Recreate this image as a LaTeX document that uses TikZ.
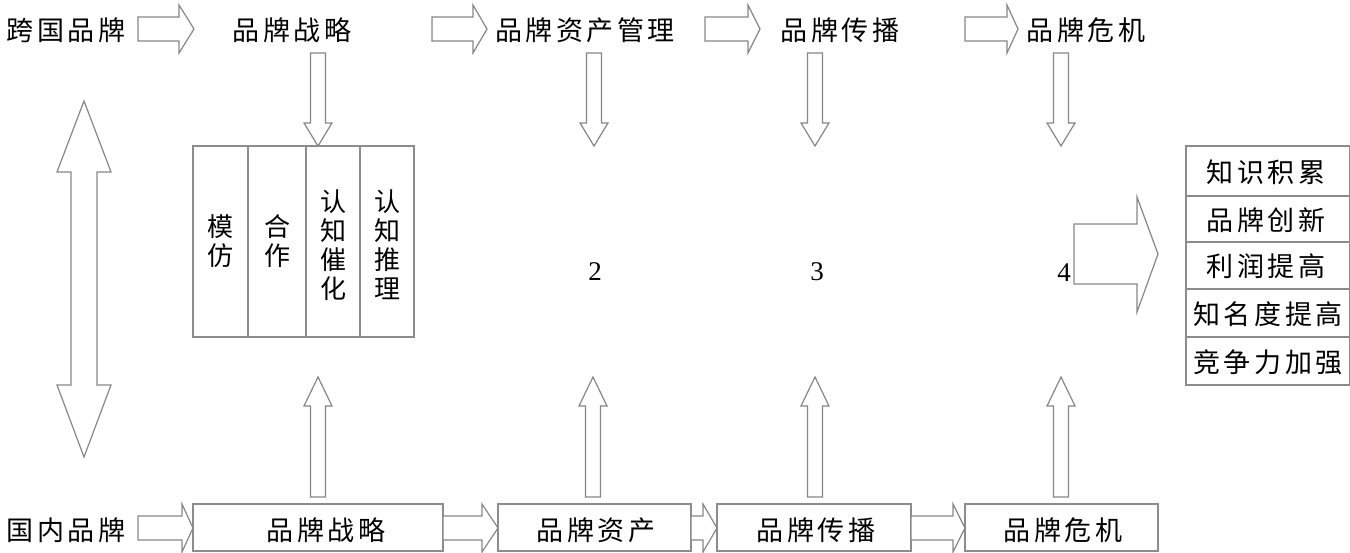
\documentclass[tikz,border=0pt]{standalone}
\usepackage{fontspec}
\setmainfont{Liberation Serif}
\newfontfamily\cjk{Noto Sans CJK SC}[LetterSpace=13]
\newfontfamily\cjkv{Noto Sans CJK SC}
\definecolor{arrowgray}{RGB}{135,135,135}
\definecolor{boxgray}{RGB}{140,140,140}
\newcommand\rarr[4]{\draw[blk] (#1,#4-12) -- (#2,#4-12) -- (#2,#4-24) -- (#3,#4) -- (#2,#4+24) -- (#2,#4+12) -- (#1,#4+12) -- cycle;}
\newcommand\varr[4]{\draw[blk] (#1-7.5,#2) -- (#1-7.5,#3) -- (#1-14,#3) -- (#1,#4) -- (#1+14,#3) -- (#1+7.5,#3) -- (#1+7.5,#2) -- cycle;}
\begin{document}
\begin{tikzpicture}[x=1pt,y=-1pt,
  txt/.style={font=\cjk\fontsize{27}{30}\selectfont, inner sep=0pt},
  vtxt/.style={font=\cjkv\fontsize{26}{29}\selectfont, align=center},
  blk/.style={draw=arrowgray, line width=1.2pt, fill=white, line join=miter},
  bx/.style={draw=boxgray, line width=1.2pt, inner sep=0pt},
  num/.style={font=\fontsize{27}{29}\selectfont, inner sep=0pt}]
\useasboundingbox (0,0) rectangle (1350,553);
% top row
\node[txt] (kg) at (66,30) {跨国品牌};
\node[txt] (s1) at (292,30) {品牌战略};
\node[txt] (s2) at (585,30) {品牌资产管理};
\node[txt] (s3) at (840,30) {品牌传播};
\node[txt] (s4) at (1086,30) {品牌危机};
\rarr{138}{179}{194}{29}
\rarr{432}{473}{487}{29}
\rarr{705}{748}{760}{29}
\rarr{965}{1007}{1018}{29}
% down arrows
\varr{318}{53}{123}{146}
\varr{594}{53}{123}{146}
\varr{815}{53}{123}{146}
\varr{1061}{53}{123}{146}
% left double arrow
\draw[blk] (84,101) -- (111,172) -- (97,172) -- (97,385) -- (111,385) -- (84,457) -- (57,385) -- (71,385) -- (71,172) -- (57,172) -- cycle;
% columns box
\node[bx, minimum width=55, minimum height=191] (c1) at (220.5,241.5) {};
\node[bx, minimum width=58, minimum height=191] (c2) at (277,241.5) {};
\node[bx, minimum width=54, minimum height=191] (c3) at (333,241.5) {};
\node[bx, minimum width=54, minimum height=191] (c4) at (387,241.5) {};
\node[vtxt] (t1) at (c1) {模\\仿};
\node[vtxt] (t2) at (c2) {合\\作};
\node[vtxt] (t3) at (333,245) {认\\知\\催\\化};
\node[vtxt] (t4) at (387,245) {认\\知\\推\\理};
% numbers
\node[num] (n2) at (595,272) {2};
\node[num] (n3) at (817,272) {3};
\node[num] (n4) at (1064,273) {4};
% big right arrow
\draw[blk] (1074,224) -- (1137,224) -- (1137,197) -- (1158,254) -- (1137,312) -- (1137,284) -- (1074,284) -- cycle;
% result list
\node[bx, minimum width=164, minimum height=50] (r1) at (1268,171) {};
\node[bx, minimum width=164, minimum height=46] (r2) at (1268,219) {};
\node[bx, minimum width=164, minimum height=47] (r3) at (1268,265.5) {};
\node[bx, minimum width=164, minimum height=48] (r4) at (1268,313) {};
\node[bx, minimum width=164, minimum height=48] (r5) at (1268,361) {};
\node[txt] at (1266,172) {知识积累};
\node[txt] at (1266,220) {品牌创新};
\node[txt] at (1266,266) {利润提高};
\node[txt] at (1268,314) {知名度提高};
\node[txt] at (1268,362) {竞争力加强};
% up arrows
\varr{318}{497}{406}{377}
\varr{593}{497}{406}{377}
\varr{815}{497}{406}{377}
\varr{1061}{497}{406}{377}
% bottom row
\node[txt] (gn) at (66,530) {国内品牌};
\node[bx, minimum width=250, minimum height=47] (b1) at (318,527.5) {};
\node[bx, minimum width=193, minimum height=47] (b2) at (594.5,527.5) {};
\node[bx, minimum width=194, minimum height=47] (b3) at (814,527.5) {};
\node[bx, minimum width=193, minimum height=47] (b4) at (1061.5,527.5) {};
\node[txt] at (326,530) {品牌战略};
\node[txt] at (596,530) {品牌资产};
\node[txt] at (816,530) {品牌传播};
\node[txt] at (1063,530) {品牌危机};
\rarr{138}{182}{193}{528}
\rarr{443}{482}{498}{528}
\rarr{691}{703}{717}{528}
\rarr{911}{953}{965}{528}
\end{tikzpicture}
\end{document}
